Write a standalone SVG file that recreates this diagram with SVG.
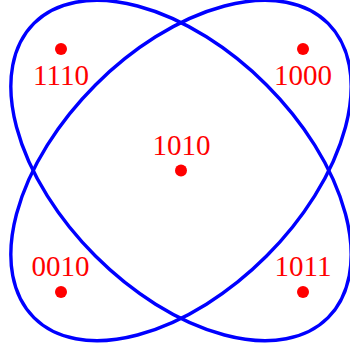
<svg xmlns="http://www.w3.org/2000/svg" width="350" height="354" viewBox="0 0 350 354">
<style>
.e{fill:none;stroke:#0000ff;stroke-width:3.4}
.d{fill:#ff0000}
.t{fill:#ff0000;font-family:"Liberation Serif",serif;font-size:29px;text-anchor:middle}
</style>
<rect width="350" height="354" fill="#ffffff"/>
<g id="sets">
<ellipse id="setA" class="e" cx="181" cy="170.5" rx="208" ry="121" transform="rotate(45 181 170.5)"/>
<ellipse id="setB" class="e" cx="181" cy="170.5" rx="208" ry="121" transform="rotate(-45 181 170.5)"/>
</g>
<g id="n1110"><circle class="d" cx="61" cy="49" r="6"/><text class="t" x="61" y="85">1110</text></g>
<g id="n1000"><circle class="d" cx="303" cy="49" r="6"/><text class="t" x="303" y="85">1000</text></g>
<g id="n1010"><circle class="d" cx="181" cy="170.5" r="6"/><text class="t" x="181.5" y="155">1010</text></g>
<g id="n0010"><circle class="d" cx="61" cy="292" r="6"/><text class="t" x="60.5" y="276">0010</text></g>
<g id="n1011"><circle class="d" cx="303" cy="292" r="6"/><text class="t" x="303" y="276">1011</text></g>
</svg>
